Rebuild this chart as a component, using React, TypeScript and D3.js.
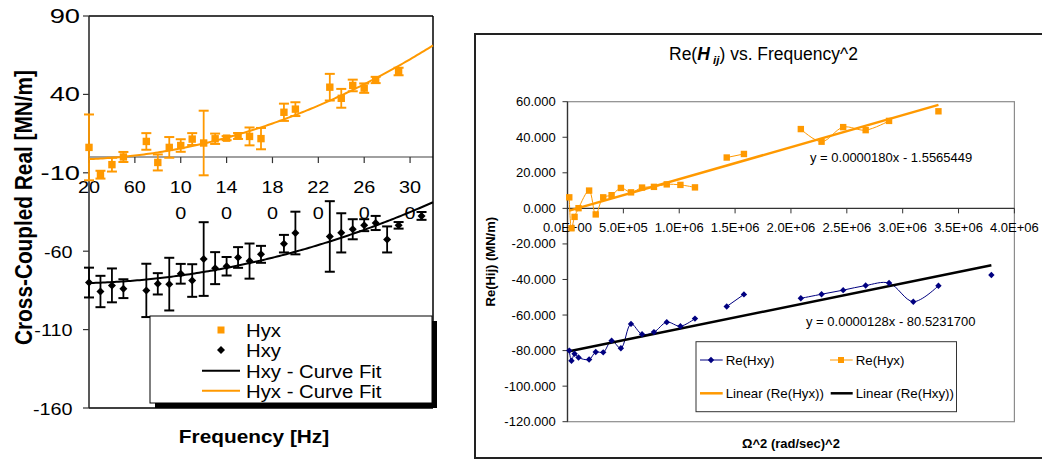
import React from 'react';
import * as d3 from 'd3';

// ---------- data (blank cells = null, as in the source sheet) ----------
const freqHz = [20, 30, 40, 50, 70, 80, 90, 100, 110, 120, 130, 140, 150, 160, 170, 180, 190, 200, 210, 220, 230, 240, 250, 260, 270, 280, 290, 300, 310];
const hyxReal: (number | null)[] = [6.2, -11.2, -4.8, 0.1, 10, -3.4, 6.2, 7.4, 11.5, 9, 11.7, 12.1, 13.5, 13.2, 11.8, null, 28.6, 30.6, null, null, 44.6, 37.5, 45.7, 44, 49.2, null, 54.6, null, null];
const hyxErr: (number | null)[] = [21, 2.5, 4.4, 3.2, 5.3, 5.1, 6.6, 4, 3.8, 20.6, 3.3, 1.3, 1.9, 5.7, 6.8, null, 5.5, 4.4, null, null, 8.5, 6, 3.7, 3, 2, null, 2.4, null, null];
const hxyReal: (number | null)[] = [-80, -85.7, -81.8, -83.9, -85, -80.8, -81, -74.4, -78.7, -65, -70.8, -69.6, -64, -66.3, -62, null, -55.2, -48.4, null, null, -50.6, -48.3, -46, -43.4, -42, -52.5, -43.5, null, -37.5];
const hxyErr: (number | null)[] = [9.5, 10, 10.8, 6, 17, 6.8, 16.8, 6.3, 10.4, 23.5, 10.2, 5.9, 6.6, 11.2, 5.4, null, 5.6, 13.6, null, null, 22.5, 12.5, 6.4, 3.8, 4.5, 8.3, 2.1, null, 2.5];
const fitHyx = { slope: 0.000018, intercept: -1.5565449, label: 'y = 0.0000180x - 1.5565449' };
const fitHxy = { slope: 0.0000128, intercept: -80.52317, label: 'y = 0.0000128x - 80.5231700' };

const leftYTicks = [90, 40, -10, -60, -110, -160];
const leftXTicks = [20, 60, 100, 140, 180, 220, 260, 300];
const rightYTicks = [60, 40, 20, 0, -20, -40, -60, -80, -100, -120];
const rightXTicks = [0, 5e5, 1e6, 1.5e6, 2e6, 2.5e6, 3e6, 3.5e6, 4e6];

const leftLegend = ['Hyx', 'Hxy', 'Hxy - Curve Fit', 'Hyx - Curve Fit'];
const rightLegend = ['Re(Hxy)', 'Re(Hyx)', 'Linear (Re(Hyx))', 'Linear (Re(Hxy))'];

// ---------- style ----------
const ORANGE = '#FF9900';
const NAVY = '#000080';
const FONT = "'Liberation Sans', Arial, Helvetica, sans-serif";

const omega2 = (f: number) => Math.pow(2 * Math.PI * f, 2);

type STProps = { x: number; y: number; sx?: number; rot?: number; anchor?: string; size: number; weight?: string; fill?: string; children: React.ReactNode };
const ST = ({ x, y, sx = 1, rot = 0, anchor = 'start', size, weight = 'normal', fill = '#000', children }: STProps) => (
  <text
    transform={`translate(${x},${y}) scale(${sx},1)${rot ? ` rotate(${rot})` : ''}`}
    textAnchor={anchor as any}
    fontSize={size}
    fontWeight={weight}
    fill={fill}
    fontFamily={FONT}
  >
    {children}
  </text>
);

const diamond = (r: number) => `M0,${-r}L${r},0L0,${r}L${-r},0Z`;

function sciLabel(v: number) {
  if (v === 0) return '0.0E+00';
  const e = Math.floor(Math.log10(v));
  const m = v / Math.pow(10, e);
  return `${m.toFixed(1)}E+${String(e).padStart(2, '0')}`;
}

function LeftChart() {
  const x = d3.scaleLinear().domain([20, 320]).range([89, 433]);
  const y = d3.scaleLinear().domain([-160, 90]).range([408, 16]);
  const fs = d3.range(20, 320.01, 2);
  const fitLine = (fit: { slope: number; intercept: number }) =>
    d3.line<number>().x((f) => x(f)).y((f) => y(fit.intercept + fit.slope * omega2(f)))(fs) || '';

  const bars = (vals: (number | null)[], errs: (number | null)[], color: string, key: string) =>
    freqHz.map((f, i) => {
      const v = vals[i];
      const e = errs[i];
      if (v == null || e == null) return null;
      const cx = x(f);
      return (
        <g key={key + i} stroke={color} strokeWidth={1.8}>
          <line x1={cx} x2={cx} y1={y(v + e)} y2={y(v - e)} />
          <line x1={cx - 5} x2={cx + 5} y1={y(v + e)} y2={y(v + e)} strokeWidth={2} />
          <line x1={cx - 5} x2={cx + 5} y1={y(v - e)} y2={y(v - e)} strokeWidth={2} />
        </g>
      );
    });

  return (
    <g>
      {/* x axis at zero */}
      <line x1={x(20)} x2={x(320)} y1={y(0)} y2={y(0)} stroke="#808080" strokeWidth={1.5} />
      {leftXTicks.map((t) => (
        <line key={'xt' + t} x1={x(t)} x2={x(t)} y1={y(0)} y2={y(0) + 6} stroke="#333" strokeWidth={1.2} />
      ))}
      {leftXTicks.map((t) => {
        const s = String(t);
        return (
          <g key={'xl' + t}>
            <ST x={x(t)} y={193} sx={1.2} anchor="middle" size={16.5}>{s.slice(0, 2)}</ST>
            {s.length > 2 && <ST x={x(t)} y={219} sx={1.2} anchor="middle" size={16.5}>{s.slice(2)}</ST>}
          </g>
        );
      })}
      {/* plot frame */}
      <line x1={x(20)} x2={x(320)} y1={y(90)} y2={y(90)} stroke="#000" strokeWidth={1.5} />
      <line x1={x(320)} x2={x(320)} y1={y(90)} y2={y(-160)} stroke="#000" strokeWidth={1.5} />
      <line x1={x(20)} x2={x(320)} y1={y(-160)} y2={y(-160)} stroke="#000" strokeWidth={1.5} />
      <line x1={x(20)} x2={x(20)} y1={y(90)} y2={y(-160)} stroke="#222" strokeWidth={1.5} />
      {leftYTicks.map((t) => (
        <line key={'yt' + t} x1={x(20) - 6} x2={x(20)} y1={y(t)} y2={y(t)} stroke="#333" strokeWidth={1.2} />
      ))}
      {leftYTicks.map((t) =>
        t >= -10 ? (
          <ST key={'yl' + t} x={80} y={y(t) + 7} sx={1.4} anchor="end" size={19.5}>{String(t)}</ST>
        ) : (
          <ST key={'yl' + t} x={72.5} y={y(t) + 6.5} sx={1.2} anchor="end" size={16.5}>{String(t)}</ST>
        )
      )}
      {/* fits */}
      <path d={fitLine(fitHxy)} fill="none" stroke="#000" strokeWidth={2} />
      <path d={fitLine(fitHyx)} fill="none" stroke={ORANGE} strokeWidth={2} />
      {/* error bars */}
      {bars(hxyReal, hxyErr, '#000', 'bk')}
      {bars(hyxReal, hyxErr, ORANGE, 'or')}
      {/* markers */}
      {freqHz.map((f, i) =>
        hxyReal[i] == null ? null : (
          <path key={'d' + i} d={diamond(4)} transform={`translate(${x(f)},${y(hxyReal[i] as number)})`} fill="#000" />
        )
      )}
      {freqHz.map((f, i) =>
        hyxReal[i] == null ? null : (
          <rect key={'s' + i} x={x(f) - 3.7} y={y(hyxReal[i] as number) - 3.7} width={7.4} height={7.4} fill={ORANGE} />
        )
      )}
      {/* titles */}
      <ST x={31.5} y={207.5} sx={1.12} rot={-90} anchor="middle" size={20.8} weight="bold">Cross-Coupled Real [MN/m]</ST>
      <ST x={254} y={442.7} sx={1.12} anchor="middle" size={18.6} weight="bold">Frequency [Hz]</ST>
      {/* legend */}
      <rect x={155} y={321} width={282} height={87} fill="#000" />
      <rect x={150} y={316} width={282} height={87} fill="#fff" stroke="#000" strokeWidth={1} />
      <rect x={217.5} y={326.5} width={7} height={7} fill={ORANGE} />
      <path d={diamond(4)} transform="translate(221,350)" fill="#000" />
      <line x1={202} x2={240} y1={370.7} y2={370.7} stroke="#000" strokeWidth={2} />
      <line x1={202} x2={240} y1={390.7} y2={390.7} stroke={ORANGE} strokeWidth={2} />
      {leftLegend.map((t, i) => (
        <ST key={'lg' + i} x={246} y={337 + i * 20.3} sx={1.13} size={18}>{t}</ST>
      ))}
    </g>
  );
}

function RightChart() {
  const x = d3.scaleLinear().domain([0, 4e6]).range([567.5, 1014.4]);
  const y = d3.scaleLinear().domain([-120, 60]).range([421.7, 101.7]);
  const curve = d3.curveCatmullRom.alpha(0.5);
  const pts = (vals: (number | null)[]) => freqHz.map((f, i) => ({ w: omega2(f), v: vals[i] }));
  const line = d3
    .line<{ w: number; v: number | null }>()
    .defined((d) => d.v != null)
    .x((d) => x(d.w))
    .y((d) => y(d.v as number))
    .curve(curve);
  const trend = (vals: (number | null)[], fit: { slope: number; intercept: number }) => {
    const ws = freqHz.filter((_, i) => vals[i] != null).map(omega2);
    const w0 = d3.min(ws) as number;
    const w1 = d3.max(ws) as number;
    return { x1: x(w0), y1: y(fit.intercept + fit.slope * w0), x2: x(w1), y2: y(fit.intercept + fit.slope * w1) };
  };
  const tO = trend(hyxReal, fitHyx);
  const tB = trend(hxyReal, fitHxy);

  return (
    <g fontFamily={FONT}>
      <rect x={475} y={34} width={600} height={424} fill="#fff" stroke="#222" strokeWidth={2} />
      {/* title */}
      <text x={669} y={60} fontSize={17.5} fontFamily={FONT}>
        <tspan>Re(</tspan>
        <tspan fontWeight="bold" fontStyle="italic">H</tspan>
        <tspan fontWeight="bold" fontStyle="italic" fontSize={11.5} dy={4}> ij</tspan>
        <tspan dy={-4}>) vs. Frequency^2</tspan>
      </text>
      {/* plot frame */}
      <rect x={x(0)} y={y(60)} width={x(4e6) - x(0)} height={y(-120) - y(60)} fill="#fff" stroke="#8c8c8c" strokeWidth={1.2} />
      <line x1={x(0)} x2={x(0)} y1={y(60)} y2={y(-120)} stroke="#333" strokeWidth={1.3} />
      <line x1={x(0)} x2={x(4e6)} y1={y(0)} y2={y(0)} stroke="#333" strokeWidth={1.2} />
      {rightYTicks.map((t) => (
        <g key={'ry' + t}>
          <line x1={x(0) - 5} x2={x(0)} y1={y(t)} y2={y(t)} stroke="#333" strokeWidth={1} />
          <text x={555.7} y={y(t) + 4.5} textAnchor="end" fontSize={13} fill="#000">{t.toFixed(3)}</text>
        </g>
      ))}
      {rightXTicks.map((t) => (
        <g key={'rx' + t}>
          <line x1={x(t)} x2={x(t)} y1={y(0)} y2={y(0) + 5} stroke="#333" strokeWidth={1} />
          <text x={x(t)} y={232} textAnchor="middle" fontSize={13} fill="#000">{sciLabel(t)}</text>
        </g>
      ))}
      {/* data lines */}
      <path d={line(pts(hxyReal)) || ''} fill="none" stroke={NAVY} strokeWidth={1} />
      <path d={line(pts(hyxReal)) || ''} fill="none" stroke={ORANGE} strokeWidth={1} />
      {/* trend lines */}
      <line {...tO} stroke={ORANGE} strokeWidth={2.5} />
      <line {...tB} stroke="#000" strokeWidth={2.5} />
      {/* markers */}
      {pts(hxyReal).map((d, i) =>
        d.v == null ? null : <path key={'rd' + i} d={diamond(3.2)} transform={`translate(${x(d.w)},${y(d.v)})`} fill={NAVY} />
      )}
      {pts(hyxReal).map((d, i) =>
        d.v == null ? null : <rect key={'rs' + i} x={x(d.w) - 3.2} y={y(d.v) - 3.2} width={6.4} height={6.4} fill={ORANGE} />
      )}
      {/* equations */}
      <text x={810} y={162} fontSize={13} fill="#000">{fitHyx.label}</text>
      <text x={806} y={325.5} fontSize={13} fill="#000">{fitHxy.label}</text>
      {/* axis titles */}
      <text transform="translate(495,261.7) rotate(-90)" textAnchor="middle" fontSize={13} fontWeight="bold" fill="#000">Re(Hij) (MN/m)</text>
      <text x={791} y={448} textAnchor="middle" fontSize={13} fontWeight="bold" fill="#000">Ω^2 (rad/sec)^2</text>
      {/* legend */}
      <rect x={696} y={341.7} width={260.5} height={70} fill="#fff" stroke="#333" strokeWidth={1} />
      <line x1={700} x2={722.7} y1={360} y2={360} stroke={NAVY} strokeWidth={1} />
      <path d={diamond(3.2)} transform="translate(711,360)" fill={NAVY} />
      <line x1={830} x2={852.7} y1={360} y2={360} stroke={ORANGE} strokeWidth={1} />
      <rect x={838} y={357} width={6} height={6} fill={ORANGE} />
      <line x1={700} x2={722.7} y1={393.3} y2={393.3} stroke={ORANGE} strokeWidth={2.5} />
      <line x1={830.7} x2={852.7} y1={393.3} y2={393.3} stroke="#000" strokeWidth={2.5} />
      <text x={725.7} y={364.5} fontSize={13.3} fill="#000">{rightLegend[0]}</text>
      <text x={855.7} y={364.5} fontSize={13.3} fill="#000">{rightLegend[1]}</text>
      <text x={725.7} y={398} fontSize={13.3} fill="#000">{rightLegend[2]}</text>
      <text x={855.7} y={398} fontSize={13.3} fill="#000">{rightLegend[3]}</text>
    </g>
  );
}

export default function App() {
  return (
    <div style={{ position: 'absolute', left: 0, top: 0, width: 1042, height: 460, background: '#fff' }}>
      <svg width={1042} height={460} viewBox="0 0 1042 460" style={{ display: 'block' }}>
        <rect x={0} y={0} width={1042} height={460} fill="#fff" />
        <LeftChart />
        <RightChart />
      </svg>
    </div>
  );
}
